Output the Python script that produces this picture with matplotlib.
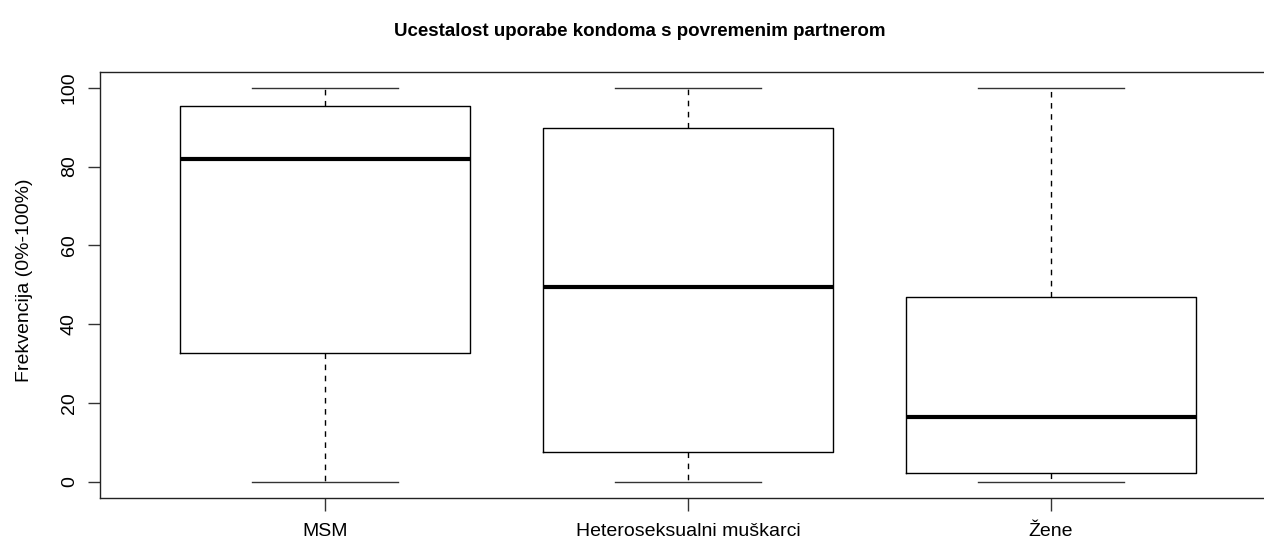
import matplotlib
matplotlib.use("Agg")
import matplotlib.pyplot as plt

plt.rcParams['font.family'] = ['Liberation Sans', 'DejaVu Sans']

groups = ['MSM', 'Heteroseksualni muškarci', 'Žene']
whislo = [0, 0, 0]
q1 = [32.7, 7.5, 2.1]
med = [81.9, 49.5, 16.5]
q3 = [95.4, 89.8, 47.0]
whishi = [100, 100, 100]

stats = []
for i in range(len(groups)):
    stats.append({'label': groups[i], 'whislo': whislo[i], 'q1': q1[i],
                  'med': med[i], 'q3': q3[i], 'whishi': whishi[i], 'fliers': []})

fig = plt.figure(figsize=(12.64, 5.44), dpi=100)
# plot region runs past the right edge, as in the cropped original
ax = fig.add_axes([100/1264, 46.5/544, 1176/1264, 425.5/544])

ax.bxp(stats, positions=[1, 2, 3], widths=0.8, capwidths=0.4, showfliers=False,
       boxprops=dict(color='black', linewidth=1.0),
       medianprops=dict(color='black', linewidth=3.0, solid_capstyle='butt'),
       whiskerprops=dict(color='black', linewidth=1.0, linestyle=(0, (4, 4))),
       capprops=dict(color='#333333', linewidth=1.0))

ax.set_xlim(0.38, 3.62)
ax.set_ylim(-4, 104)
ax.set_yticks([0, 20, 40, 60, 80, 100])
ax.set_yticklabels(['0', '20', '40', '60', '80', '100'], rotation=90, va='center')
ax.tick_params(axis='both', length=9, width=1, labelsize=14, pad=7, color='#333333')
ax.tick_params(axis='x', pad=9)
for s in ax.spines.values():
    s.set_linewidth(1.0)
    s.set_color('#222222')

ax.set_ylabel('Frekvencija (0%-100%)', fontsize=14)
ax.yaxis.set_label_coords(-0.057, 0.51)
fig.text(640/1264, 1 - 31/544, 'Ucestalost uporabe kondoma s povremenim partnerom',
         ha='center', va='center', fontsize=13.5, fontweight='bold')

fig.savefig('out.png', dpi=100)
